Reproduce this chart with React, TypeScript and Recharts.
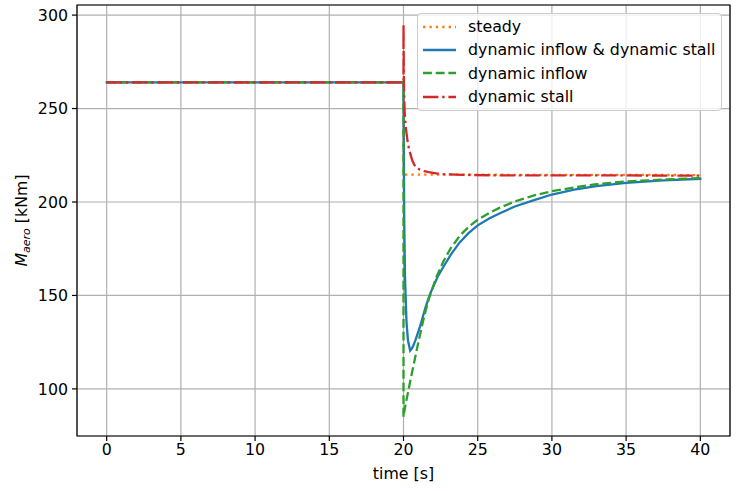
import React from "react";
import { CartesianGrid, Legend, Line, LineChart, ReferenceArea, XAxis, YAxis } from "recharts";

// axis ticks
const xTicks = [0, 5, 10, 15, 20, 25, 30, 35, 40];
const yTicks = [100, 150, 200, 250, 300];

// steady
const steadyTime = [0, 20, 20, 25, 30, 35, 40];
const steadyMoment = [264, 264, 214.7, 214.6, 214.5, 214.5, 214.4];

// dynamic inflow & dynamic stall
const bothTime = [
  0, 20, 20.02, 20.05, 20.1, 20.2, 20.3, 20.45, 20.6, 20.8, 21.1, 21.5, 21.8, 22.3, 22.7, 23.2, 23.8,
  24.4, 25, 25.8, 26.5, 27.5, 28.8, 30, 31.5, 33, 35, 37.5, 40
];
const bothMoment = [
  264, 264, 230, 190, 160, 136, 126, 120.5, 122, 126, 133, 144, 151, 160, 165.5, 172, 178.5,
  183.5, 187.5, 191.3, 194, 197.6, 201, 204, 206.6, 208.5, 210.2, 211.6, 212.4
];

// dynamic inflow
const inflowTime = [
  0, 20, 20, 20.1, 20.3, 20.5, 20.7, 21, 21.4, 21.7, 22.2, 22.7, 23.2, 23.8, 24.4, 25, 25.8, 26.5,
  27.5, 28.8, 30, 31.5, 33, 35, 37.5, 40
];
const inflowMoment = [
  264, 264, 85, 90, 98, 106, 113.5, 125, 139, 148, 159.5, 168.4, 175.5, 182, 186.8, 190.5, 194.2, 197,
  200.3, 203.5, 205.8, 207.8, 209.5, 211, 212, 212.8
];

// dynamic stall
const stallTime = [
  0, 20, 20, 20.03, 20.08, 20.15, 20.3, 20.45, 20.6, 20.8, 21.1, 21.4, 21.7, 22.2, 22.8, 24, 26, 30, 35, 40
];
const stallMoment = [
  264, 264, 295, 262, 248, 240, 231, 226, 222, 218.8, 217.3, 216.5, 216, 215.3, 214.8, 214.5, 214.3,
  214.2, 214.2, 214.1
];

const toPoints = (t: number[], m: number[]) => t.map((x, i) => ({ t: x, m: m[i] }));

const series = [
  { name: "steady", data: toPoints(steadyTime, steadyMoment), color: "#ff7f0e", dash: "2.4 4", cap: "butt" },
  { name: "dynamic inflow & dynamic stall", data: toPoints(bothTime, bothMoment), color: "#1f77b4", dash: undefined, cap: "square" },
  { name: "dynamic inflow", data: toPoints(inflowTime, inflowMoment), color: "#2ca02c", dash: "8.9 3.8", cap: "butt" },
  { name: "dynamic stall", data: toPoints(stallTime, stallMoment), color: "#d62728", dash: "15.4 3.8 2.4 3.8", cap: "butt" }
];

const font = "'DejaVu Sans', sans-serif";
const fs = 15.8;
const lw = 2.3;
const xDomain = [-2, 42];
const yDomain = [74.8, 305.4];

function LegendBox() {
  return (
    <div
      style={{
        background: "rgba(255,255,255,0.8)",
        border: "1px solid #cccccc",
        borderRadius: 4,
        padding: "1px 6px 2px 5px",
        fontFamily: font,
        fontSize: fs,
        color: "#000"
      }}
    >
      {series.map((s) => (
        <div key={s.name} style={{ display: "flex", alignItems: "center", height: 23.3 }}>
          <svg width={33} height={8}>
            <line x1={0} y1={4} x2={33} y2={4} stroke={s.color} strokeWidth={lw} strokeDasharray={s.dash} />
          </svg>
          <span style={{ marginLeft: 12, whiteSpace: "nowrap" }}>{s.name}</span>
        </div>
      ))}
    </div>
  );
}

const yLabel = (props: any) => {
  const vb = props.viewBox || { x: 0, y: 5, width: 77, height: 431 };
  const cx = vb.x + 27;
  const cy = vb.y + vb.height / 2;
  return (
    <text
      x={cx}
      y={cy}
      transform={`rotate(-90, ${cx}, ${cy})`}
      textAnchor="middle"
      fontFamily={font}
      fontSize={fs}
      fill="#000"
    >
      <tspan fontStyle="italic">M</tspan>
      <tspan fontStyle="italic" fontSize={11} dy={3}>aero</tspan>
      <tspan dy={-3}> [kNm]</tspan>
    </text>
  );
};

const xLabel = (props: any) => {
  const vb = props.viewBox || { x: 77, y: 436, width: 653, height: 55 };
  return (
    <text x={vb.x + vb.width / 2} y={vb.y + 43} textAnchor="middle" fontFamily={font} fontSize={fs} fill="#000">
      time [s]
    </text>
  );
};

export default function App() {
  return (
    <div style={{ width: 737, height: 491, background: "#fff", position: "relative" }}>
      <style>{`body{margin:0;}`}</style>
      <LineChart width={737} height={491} margin={{ top: 5, right: 7, bottom: 0, left: 0 }}>
        <CartesianGrid stroke="#b0b0b0" strokeWidth={1.2} />
        <XAxis
          type="number"
          dataKey="t"
          domain={xDomain}
          ticks={xTicks}
          allowDataOverflow
          height={55}
          axisLine={false}
          tickSize={5}
          tickMargin={3}
          tickLine={{ stroke: "#000", strokeWidth: 1.2 }}
          tick={{ fill: "#000", fontSize: fs, fontFamily: font }}
          label={{ content: xLabel }}
        />
        <YAxis
          type="number"
          dataKey="m"
          domain={yDomain}
          ticks={yTicks}
          allowDataOverflow
          width={77}
          axisLine={false}
          tickSize={5}
          tickMargin={4}
          tickLine={{ stroke: "#000", strokeWidth: 1.2 }}
          tick={{ fill: "#000", fontSize: fs, fontFamily: font }}
          label={{ content: yLabel }}
        />
        {series.map((s) => (
          <Line
            key={s.name}
            data={s.data}
            dataKey="m"
            name={s.name}
            type="linear"
            stroke={s.color}
            strokeWidth={lw}
            strokeDasharray={s.dash}
            strokeLinecap={s.cap as any}
            dot={false}
            activeDot={false}
            isAnimationActive={false}
          />
        ))}
        <ReferenceArea
          x1={xDomain[0]}
          x2={xDomain[1]}
          y1={yDomain[0]}
          y2={yDomain[1]}
          fill="none"
          stroke="#000"
          strokeWidth={1.2}
          ifOverflow="visible"
        />
        <Legend
          layout="horizontal"
          verticalAlign="middle"
          align="center"
          wrapperStyle={{ left: 417, top: 13, width: "auto", right: "auto", bottom: "auto" }}
          content={() => <LegendBox />}
        />
      </LineChart>
    </div>
  );
}
